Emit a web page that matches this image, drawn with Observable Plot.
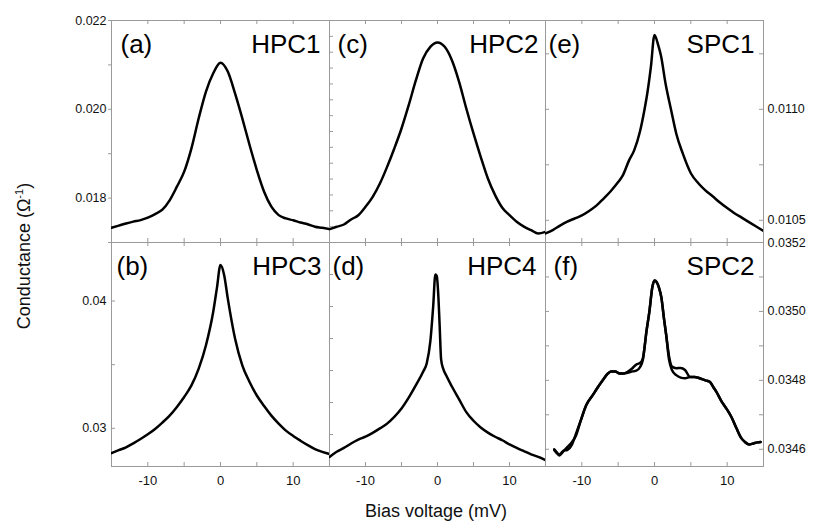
<!DOCTYPE html>
<html>
<head>
<meta charset="utf-8">
<script src="https://cdn.jsdelivr.net/npm/d3@7"></script>
<script src="https://cdn.jsdelivr.net/npm/@observablehq/plot@0.6"></script>
<style>
  body { margin: 0; background: #fff; }
  #chart { position: relative; width: 815px; height: 525px; overflow: hidden; color: #111;
           font-family: "Liberation Sans", Arial, sans-serif; }
  #chart svg { position: absolute; overflow: visible; }
  .axlab { position: absolute; font-size: 18px; text-align: center; white-space: nowrap; color: #111; }
  .axlab sup { font-size: 11px; vertical-align: 7px; line-height: 0; }
</style>
</head>
<body>
<div id="chart"></div>
<script>
// ---------------- data ----------------
const xDomain = [-15, 15];
const xTickValues = [-10, -5, 0, 5, 10];
const xTickLabels = [-10, 0, 10];

// (a) HPC1
const aBias = [-15,-14,-13,-12,-11,-10,-9,-8,-7,-6,-5,-4,-3,-2,-1,0,1,2,3,4,5,6,7,8,9,10,11,12,13,14,15];
const aCond = [0.017332,0.01738,0.017429,0.01747,0.017504,0.01756,0.01764,0.01774,0.01795,0.018257,0.018595,0.019121,0.019797,0.020399,0.020812,0.02105,0.02085,0.02036,0.019797,0.019195,0.018631,0.018144,0.017806,0.017617,0.017542,0.0175,0.017452,0.01741,0.017355,0.01733,0.017301];
const aTicks = [0.017, 0.018, 0.019, 0.020, 0.021, 0.022];

// (b) HPC3
const bBias = [-15,-14,-13,-12,-11,-10,-9,-8,-7,-6,-5,-4,-3,-2,-1,-0.5,0,0.5,1,2,3,4,5,6,7,8,9,10,11,12,13,14,15];
const bCond = [0.02805,0.02828,0.02851,0.02882,0.02916,0.02953,0.02995,0.03045,0.031,0.03168,0.03246,0.03337,0.03469,0.03653,0.03916,0.041,0.04284,0.04205,0.04021,0.03706,0.03495,0.03364,0.03258,0.03175,0.031,0.03037,0.02982,0.0294,0.02903,0.02868,0.02837,0.02815,0.02798];
const bTicks = [0.03, 0.035, 0.04];
const bLabels = [0.03, 0.04];

// (c) HPC2
const cBias = [-15,-14,-13,-12,-11,-10,-9,-8,-7,-6,-5,-4,-3,-2,-1,0,1,2,3,4,5,6,7,8,9,10,11,12,13,14,15];
const cCond = [0.014968,0.014998,0.015027,0.01509,0.015144,0.01525,0.015376,0.015544,0.015754,0.015986,0.016238,0.016532,0.016847,0.017121,0.017268,0.017323,0.017268,0.017099,0.016827,0.01649,0.016175,0.015881,0.015607,0.015397,0.015238,0.015144,0.015061,0.015,0.014955,0.014913,0.014935];
const cTicks = [0.0150,0.0152,0.0154,0.0156,0.0158,0.0160,0.0162,0.0164,0.0166,0.0168,0.0170,0.0172,0.0174];

// (d) HPC4
const dBias = [-15,-14,-13,-12,-11,-10,-9,-8,-7,-6,-5,-4,-3,-2,-1.5,-1,-0.6,-0.3,-0.1,0.1,0.3,0.5,0.8,1.2,2,3,4,5,6,7,8,9,10,11,12,13,14,15];
const dCond = [0.0293,0.02946,0.02958,0.02972,0.02984,0.02993,0.03005,0.03019,0.03034,0.03055,0.03081,0.03115,0.03154,0.03196,0.03222,0.0329,0.034,0.035,0.03495,0.0344,0.0334,0.03235,0.03205,0.03185,0.0315,0.0311,0.0307,0.03043,0.03022,0.03006,0.02993,0.02982,0.02969,0.02958,0.02948,0.02938,0.0293,0.0292];
const dTicks = [0.030, 0.031, 0.032, 0.033, 0.034, 0.035];

// (e) SPC1
const eBias = [-15,-14,-13,-12,-11,-10,-9,-8,-7,-6,-5,-4.4,-3.5,-2.8,-2,-1.4,-1,-0.5,0,0.5,0.9,1.5,2.3,3,3.9,5,6,7,8,9,10,11,12,13,14,15];
const eCond = [0.010441,0.010456,0.010476,0.010494,0.010508,0.010522,0.010542,0.010566,0.010598,0.010632,0.010672,0.0107,0.01077,0.010815,0.0109,0.010995,0.01107,0.01119,0.011335,0.01129,0.01124,0.01112,0.010995,0.01089,0.0108,0.010712,0.010668,0.010635,0.010608,0.01058,0.010555,0.010532,0.010512,0.010492,0.010472,0.010452];
const eTicks = [0.0105, 0.01075, 0.0110, 0.01125];
const eLabels = [0.0105, 0.0110];

// (f) SPC2, two sweeps
const fBias = [-13.8,-13.4,-13.1,-12.5,-12,-11.4,-10.8,-10.2,-9.4,-8.5,-7.8,-7.1,-6.5,-6,-5.4,-4.8,-4.2,-3.7,-3,-2.5,-2,-1.6,-1.1,-0.7,-0.3,0,0.3,0.6,0.95,1.3,1.6,2,2.4,3,3.6,4.2,4.9,5.5,6.2,7,7.6,8.1,8.5,9.2,9.9,10.6,11.3,11.9,12.4,13,13.6,14.2,14.6];
const fCondSweep1 = [0.0346,0.03459,0.034582,0.034595,0.034606,0.03462,0.03464,0.03468,0.034728,0.034757,0.03478,0.034801,0.034818,0.034826,0.034826,0.03482,0.03482,0.034825,0.034836,0.034846,0.03485,0.034864,0.034943,0.035,0.03507,0.03509,0.035085,0.03507,0.03504,0.03498,0.034933,0.03487,0.03484,0.034835,0.034836,0.03483,0.03481,0.03481,0.034806,0.0348,0.034796,0.03478,0.034767,0.03474,0.034718,0.034693,0.03466,0.034634,0.034622,0.034614,0.034617,0.03462,0.034621];
const fCondSweep2 = [0.034598,0.034588,0.034585,0.034596,0.034598,0.034612,0.034645,0.03468,0.034728,0.034757,0.03478,0.034801,0.034818,0.034826,0.034826,0.03482,0.03482,0.034822,0.034826,0.034828,0.034838,0.03486,0.034943,0.035,0.03507,0.03509,0.035085,0.03507,0.03504,0.03498,0.034933,0.03486,0.03483,0.034815,0.034808,0.034806,0.03481,0.03481,0.034806,0.0348,0.034796,0.03478,0.034767,0.03474,0.034718,0.034693,0.03466,0.034634,0.034622,0.034614,0.034617,0.03462,0.034621];
const fTicks = [0.0346, 0.0347, 0.0348, 0.0349, 0.0350, 0.0351];
const fLabels = [0.0346, 0.0348, 0.0350, 0.0352];

const panelLetters = ["(a)", "(b)", "(c)", "(d)", "(e)", "(f)"];
const panelNames = ["HPC1", "HPC3", "HPC2", "HPC4", "SPC1", "SPC2"];

// ---------------- layout & style ----------------
const GRAY = "#9a9a9a";
const FONT = "'Liberation Sans', Arial, sans-serif";
const colX = [111, 329, 545], colW = [218, 216, 218];
const rowY = [20, 242], rowH = [222, 224];
const M = {top: 4, right: 50, bottom: 34, left: 56};

const panels = [
  {col:0,row:0, bias:aBias, series:[aCond], yDomain:[0.017,0.022], letter:0, ldx:9, ndx:-9,
   outerLeft:{ticks:aTicks, fmt: d => (Math.round(d*1000)%2===0 ? d3.format(".3f")(d) : "")}},
  {col:0,row:1, bias:bBias, series:[bCond], yDomain:[0.027,0.0446], letter:1, ldx:5, ndx:-8,
   innerLeft:bTicks, leftLabels:{ticks:bLabels, fmt:d3.format(".2f")}},
  {col:1,row:0, bias:cBias, series:[cCond], yDomain:[0.0148,0.0176], letter:2, ldx:8, ndx:-7,
   innerLeft:cTicks},
  {col:1,row:1, bias:dBias, series:[dCond], yDomain:[0.029,0.036], letter:3, ldx:3, ndx:-9,
   innerLeft:dTicks},
  {col:2,row:0, bias:eBias, series:[eCond], yDomain:[0.0104,0.0114], letter:4, ldx:3, ndx:-9,
   innerLeft:eTicks, innerRight:eTicks, rightLabels:{ticks:eLabels, fmt:d3.format(".4f")}},
  {col:2,row:1, bias:fBias, series:[fCondSweep1, fCondSweep2], yDomain:[0.03455,0.0352], letter:5, ldx:8, ndx:-9,
   innerLeft:fTicks, innerRight:fTicks, rightLabels:{ticks:fLabels, fmt:d3.format(".4f")}}
];

const chart = document.getElementById("chart");

for (const p of panels) {
  const W = colW[p.col], H = rowH[p.row];
  const marks = [];
  marks.push(Plot.frame({stroke: GRAY}));
  marks.push(Plot.tickX(xTickValues, {x: d => d, insetBottom: H - 4, stroke: GRAY}));
  marks.push(Plot.tickX(xTickValues, {x: d => d, insetTop: H - 4, stroke: GRAY}));
  if (p.innerLeft) marks.push(Plot.tickY(p.innerLeft, {y: d => d, insetRight: W - 4, stroke: GRAY}));
  if (p.innerRight) marks.push(Plot.tickY(p.innerRight, {y: d => d, insetLeft: W - 4, stroke: GRAY}));
  if (p.outerLeft) marks.push(Plot.axisY(p.outerLeft.ticks, {anchor: "left", tickSize: 3, tickPadding: 2,
      tickFormat: p.outerLeft.fmt, fontSize: 12.5, stroke: GRAY, fill: "#111", label: null}));
  if (p.leftLabels) marks.push(Plot.axisY(p.leftLabels.ticks, {anchor: "left", tickSize: 0, tickPadding: 5,
      tickFormat: p.leftLabels.fmt, fontSize: 12.5, fill: "#111", label: null}));
  if (p.rightLabels) marks.push(Plot.axisY(p.rightLabels.ticks, {anchor: "right", tickSize: 0, tickPadding: 4,
      tickFormat: p.rightLabels.fmt, fontSize: 12.5, fill: "#111", label: null}));
  if (p.row === 1) marks.push(Plot.axisX(xTickLabels, {anchor: "bottom", tickSize: 0, tickPadding: 9,
      tickFormat: d => String(d), fontSize: 13, fill: "#111", label: null}));
  for (const s of p.series) {
    marks.push(Plot.line(p.bias.map((v, i) => ({v, g: s[i]})),
      {x: "v", y: "g", stroke: "#000", strokeWidth: 2.5, strokeLinejoin: "round",
       curve: "monotone-x", clip: true}));
  }
  marks.push(Plot.text([panelLetters[p.letter]], {text: d => d, frameAnchor: "top-left", textAnchor: "start",
      lineAnchor: "top", dx: p.ldx, dy: 14, fontSize: 26, fontWeight: 400, fill: "#000"}));
  marks.push(Plot.text([panelNames[p.letter]], {text: d => d, frameAnchor: "top-right", textAnchor: "end",
      lineAnchor: "top", dx: p.ndx, dy: 14, fontSize: 26, fontWeight: 400, fill: "#000"}));

  const svg = Plot.plot({
    width: W + M.left + M.right,
    height: H + M.top + M.bottom,
    marginTop: M.top, marginRight: M.right, marginBottom: M.bottom, marginLeft: M.left,
    x: {domain: xDomain, axis: null},
    y: {domain: p.yDomain, axis: null},
    style: {background: "transparent", overflow: "visible", fontFamily: FONT},
    marks
  });
  svg.style.left = (colX[p.col] - M.left) + "px";
  svg.style.top = (rowY[p.row] - M.top) + "px";
  chart.appendChild(svg);
}

// axis titles
const xl = document.createElement("div");
xl.className = "axlab";
xl.style.left = "336px"; xl.style.width = "200px"; xl.style.top = "502px"; xl.style.lineHeight = "18px";
xl.textContent = "Bias voltage (mV)";
chart.appendChild(xl);

const yl = document.createElement("div");
yl.className = "axlab";
yl.style.left = "-76px"; yl.style.width = "200px"; yl.style.top = "246px";
yl.style.height = "20px"; yl.style.lineHeight = "20px";
yl.style.transform = "rotate(-90deg)"; yl.style.transformOrigin = "50% 50%";
yl.innerHTML = "Conductance (&Omega;<sup>-1</sup>)";
chart.appendChild(yl);
</script>
</body>
</html>
